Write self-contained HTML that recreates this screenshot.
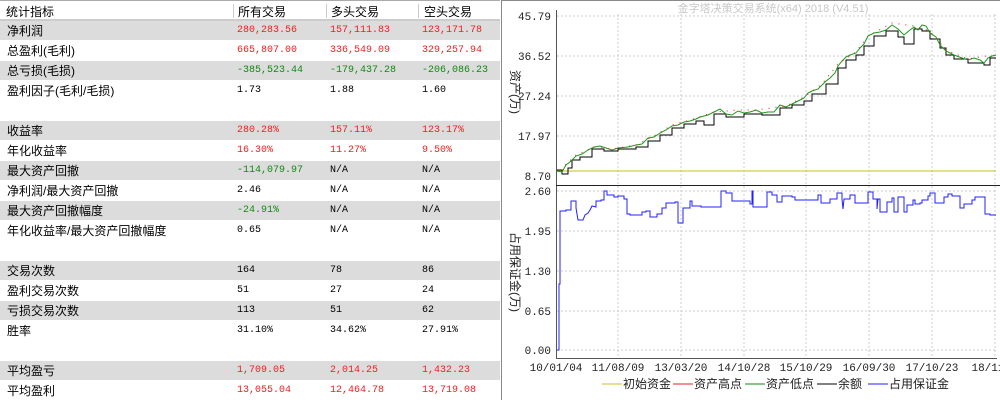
<!DOCTYPE html>
<html><head><meta charset="utf-8"><style>
body{margin:0;width:1000px;height:400px;background:#fff;overflow:hidden;font-family:"Liberation Sans","Noto Sans CJK SC",sans-serif;font-size:12px;color:#000}
#tbl{position:absolute;left:0;top:0;width:501px;height:400px;border-right:1px solid #888}
.hd{position:absolute;top:0;left:0;width:500px;height:18px;background:#fff;border-bottom:2px solid #ccc;border-top:1px solid #aaa}
.hd span{position:absolute;top:2px;font-size:12px}
.sep{position:absolute;top:3px;width:1px;height:14px;background:#ccc}
.r{position:absolute;left:0;width:500px;height:19px}
.g{background:#dcdcdc}
.r span{position:absolute;top:1px}
.n{font-family:"Liberation Mono",monospace;font-size:10px;top:4px!important}
.red{color:#f02020}.grn{color:#108a10}
</style></head><body>
<div id="tbl">
<div class="hd"><span style="left:6px">统计指标</span><div class="sep" style="left:233px"></div><span style="left:238px">所有交易</span><div class="sep" style="left:326px"></div><span style="left:331px">多头交易</span><div class="sep" style="left:418px"></div><span style="left:424px">空头交易</span></div>
<div class="r g" style="top:21px"><span style="left:7px">净利润</span><span class="n red" style="left:237px">280,283.56</span><span class="n red" style="left:330px">157,111.83</span><span class="n red" style="left:422px">123,171.78</span></div>
<div class="r" style="top:41px"><span style="left:7px">总盈利(毛利)</span><span class="n red" style="left:237px">665,807.00</span><span class="n red" style="left:330px">336,549.09</span><span class="n red" style="left:422px">329,257.94</span></div>
<div class="r g" style="top:61px"><span style="left:7px">总亏损(毛损)</span><span class="n grn" style="left:237px">-385,523.44</span><span class="n grn" style="left:330px">-179,437.28</span><span class="n grn" style="left:422px">-206,086.23</span></div>
<div class="r" style="top:81px"><span style="left:7px">盈利因子(毛利/毛损)</span><span class="n" style="left:237px">1.73</span><span class="n" style="left:330px">1.88</span><span class="n" style="left:422px">1.60</span></div>
<div class="r g" style="top:121px"><span style="left:7px">收益率</span><span class="n red" style="left:237px">280.28%</span><span class="n red" style="left:330px">157.11%</span><span class="n red" style="left:422px">123.17%</span></div>
<div class="r" style="top:141px"><span style="left:7px">年化收益率</span><span class="n red" style="left:237px">16.30%</span><span class="n red" style="left:330px">11.27%</span><span class="n red" style="left:422px">9.50%</span></div>
<div class="r g" style="top:161px"><span style="left:7px">最大资产回撤</span><span class="n grn" style="left:237px">-114,079.97</span><span class="n" style="left:330px">N/A</span><span class="n" style="left:422px">N/A</span></div>
<div class="r" style="top:181px"><span style="left:7px">净利润/最大资产回撤</span><span class="n" style="left:237px">2.46</span><span class="n" style="left:330px">N/A</span><span class="n" style="left:422px">N/A</span></div>
<div class="r g" style="top:201px"><span style="left:7px">最大资产回撤幅度</span><span class="n grn" style="left:237px">-24.91%</span><span class="n" style="left:330px">N/A</span><span class="n" style="left:422px">N/A</span></div>
<div class="r" style="top:221px"><span style="left:7px">年化收益率/最大资产回撤幅度</span><span class="n" style="left:237px">0.65</span><span class="n" style="left:330px">N/A</span><span class="n" style="left:422px">N/A</span></div>
<div class="r g" style="top:261px"><span style="left:7px">交易次数</span><span class="n" style="left:237px">164</span><span class="n" style="left:330px">78</span><span class="n" style="left:422px">86</span></div>
<div class="r" style="top:281px"><span style="left:7px">盈利交易次数</span><span class="n" style="left:237px">51</span><span class="n" style="left:330px">27</span><span class="n" style="left:422px">24</span></div>
<div class="r g" style="top:301px"><span style="left:7px">亏损交易次数</span><span class="n" style="left:237px">113</span><span class="n" style="left:330px">51</span><span class="n" style="left:422px">62</span></div>
<div class="r" style="top:321px"><span style="left:7px">胜率</span><span class="n" style="left:237px">31.10%</span><span class="n" style="left:330px">34.62%</span><span class="n" style="left:422px">27.91%</span></div>
<div class="r g" style="top:361px"><span style="left:7px">平均盈亏</span><span class="n red" style="left:237px">1,709.05</span><span class="n red" style="left:330px">2,014.25</span><span class="n red" style="left:422px">1,432.23</span></div>
<div class="r" style="top:381px"><span style="left:7px">平均盈利</span><span class="n red" style="left:237px">13,055.04</span><span class="n red" style="left:330px">12,464.78</span><span class="n red" style="left:422px">13,719.08</span></div>
</div>
<svg style="position:absolute;left:0;top:0" width="1000" height="400" font-family="Liberation Mono,monospace" font-size="11">
<line x1="502" y1="0.5" x2="1000" y2="0.5" stroke="#888"/>
<text x="773" y="12" text-anchor="middle" fill="#c8c8c8" font-size="11" font-family="Liberation Sans,Noto Sans CJK SC,sans-serif">金字塔决策交易系统(x64) 2018 (V4.51)</text>
<g stroke="#ccc" stroke-dasharray="2,2">
<line x1="557" y1="16" x2="996" y2="16"/><line x1="557" y1="56" x2="996" y2="56"/><line x1="557" y1="96" x2="996" y2="96"/><line x1="557" y1="136" x2="996" y2="136"/>
<line x1="557" y1="191" x2="996" y2="191"/><line x1="557" y1="231" x2="996" y2="231"/><line x1="557" y1="271" x2="996" y2="271"/><line x1="557" y1="311" x2="996" y2="311"/><line x1="557" y1="350" x2="996" y2="350"/>
<line x1="618" y1="14" x2="618" y2="358"/><line x1="681" y1="14" x2="681" y2="358"/><line x1="744" y1="14" x2="744" y2="358"/><line x1="806" y1="14" x2="806" y2="358"/><line x1="869" y1="14" x2="869" y2="358"/><line x1="932" y1="14" x2="932" y2="358"/><line x1="995" y1="14" x2="995" y2="358"/>
</g>
<line x1="556.5" y1="10" x2="556.5" y2="359" stroke="#555"/>
<line x1="556" y1="185.5" x2="1000" y2="185.5" stroke="#222"/>
<line x1="556" y1="358.5" x2="997" y2="358.5" stroke="#555"/>
<line x1="557" y1="171" x2="996" y2="171" stroke="#c8c020"/>
<g fill="#222" text-anchor="end">
<text x="551" y="20">45.79</text><text x="551" y="60">36.52</text><text x="551" y="100">27.24</text><text x="551" y="140">17.97</text><text x="551" y="180">8.70</text>
<text x="551" y="195">2.60</text><text x="551" y="235">1.95</text><text x="551" y="275">1.30</text><text x="551" y="315">0.65</text><text x="551" y="354">0.00</text>
</g>
<g fill="#222" text-anchor="middle">
<text x="556" y="371">10/01/04</text><text x="618" y="371">11/08/09</text><text x="681" y="371">13/03/20</text><text x="744" y="371">14/10/28</text><text x="806" y="371">15/10/29</text><text x="869" y="371">16/09/30</text><text x="932" y="371">17/10/23</text><text x="988" y="371">18/11</text>
</g>
<g font-family="Liberation Sans,Noto Sans CJK SC,sans-serif" font-size="12" fill="#222">
<text transform="translate(511,70) rotate(90)">资产(万)</text>
<text transform="translate(511,232) rotate(90)">占用保证金(万)</text>
<line x1="602" y1="384" x2="622" y2="384" stroke="#c8c020"/><text x="623" y="388">初始资金</text>
<line x1="673" y1="384" x2="693" y2="384" stroke="#e02020"/><text x="694" y="388">资产高点</text>
<line x1="745" y1="384" x2="765" y2="384" stroke="#108a10"/><text x="766" y="388">资产低点</text>
<line x1="817" y1="384" x2="837" y2="384" stroke="#000"/><text x="838" y="388">余额</text>
<line x1="868" y1="384" x2="888" y2="384" stroke="#2020ff"/><text x="889" y="388">占用保证金</text>
</g>
<polyline fill="none" stroke="#000" stroke-width="1" points="557,170 562,170 562,174 568,174 568,168 572,168 572,160 580,160 580,157 592,157 592,149 604,149 604,151 618,151 618,149 636,149 636,147 648,147 648,141 660,141 660,135 672,135 672,128 684,128 684,124 696,124 696,121 704,121 704,125 714,125 714,114 726,114 726,117 744,117 744,114 762,114 762,115 780,115 780,108 792,108 792,105 804,105 804,101 812,101 812,94 826,94 826,84 838,84 838,68 846,68 846,60 856,60 856,55 864,55 864,46 874,46 874,36 886,36 886,31 898,31 898,37 904,37 904,44 914,44 914,29 922,29 922,31 930,31 930,39 940,39 940,48 946,48 946,55 954,55 954,59 968,59 968,63 984,63 984,65 990,65 990,58 996,58"/>
<polyline fill="none" stroke="#1a9a1a" stroke-width="1" points="557,171 562,172 566,165 570,162 576,156 582,154 588,150 594,147 600,146 606,148 612,150 618,148 628,147 636,145 642,144 648,138 654,137 660,133 666,130 672,126 678,125 684,122 690,121 696,119 700,117 708,115 714,112 720,109 726,114 732,115 738,111 744,113 750,112 756,110 762,113 768,112 774,112 780,105 786,107 792,104 798,101 804,98 808,93 812,91 818,89 822,85 826,81 830,78 835,73 838,66 842,61 846,57 850,55 856,53 860,48 864,44 868,36 874,33 880,32 886,30 892,25 898,29 904,35 910,30 914,27 918,30 922,25 926,26 930,33 936,37 940,45 946,51 954,55 962,58 968,60 974,58 980,60 984,63 988,58 992,56 996,55"/>
<polyline fill="none" stroke="#e02020" stroke-width="1" stroke-dasharray="1,6" points="560,170 576,155 594,147 612,149 636,145 654,136 672,125 690,120 714,112 738,110 756,110 786,106 804,97 822,84 838,64 856,52 868,36 892,23 914,26 930,31 946,50 968,59 992,55"/>
<polyline fill="none" stroke="#2020ff" stroke-width="1" points="557,350 559,350 559,284 560,284 560,211 566,211 566,210 571,210 571,201 576,201 576,208 578,220 583,220 585,215 588,213 590,210 592,206 596,207 596,201 601,201 601,200 604,200 604,191 607,191 607,195 614,195 614,197 618,197 618,196 624,196 624,199 627,199 627,214 630,214 630,215 642,215 642,212 646,212 646,211 650,211 650,217 657,217 657,214 662,214 662,208 666,208 666,203 675,203 675,202 678,202 678,223 683,223 683,208 690,208 690,201 692,201 692,206 701,206 701,207 721,207 721,191 726,191 726,193 732,193 732,201 750,201 750,204 752,204 752,191 753,191 753,207 767,207 767,192 772,192 772,195 777,195 777,202 782,202 782,196 792,196 792,197 795,197 795,200 818,200 818,195 821,195 821,203 830,203 830,199 837,199 837,193 842,193 842,199 843,209 844,199 850,199 850,195 855,195 855,203 868,203 868,192 873,192 873,199 877,199 877,209 878,199 880,199 880,212 887,212 887,202 892,202 892,198 894,198 894,212 898,212 898,197 904,197 904,212 907,212 907,205 913,205 913,200 915,200 915,204 920,204 920,203 922,203 922,200 928,200 928,196 930,196 930,193 935,193 935,203 944,203 944,197 948,197 948,194 952,194 952,196 960,196 960,208 964,208 964,204 972,204 972,200 975,200 975,197 985,197 985,214 990,214 990,215 996,215"/>
</svg>
</body></html>
